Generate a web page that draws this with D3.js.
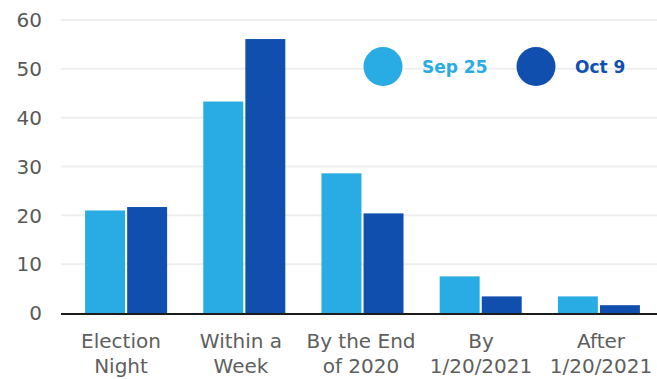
<!DOCTYPE html>
<html>
<head>
<meta charset="utf-8">
<script src="https://cdn.jsdelivr.net/npm/d3@7"></script>
<style>
  html, body { margin: 0; padding: 0; background: #fff; }
  svg { display: block; }
  text { font-family: "DejaVu Sans", sans-serif; }
</style>
</head>
<body>
<svg id="chart" width="657" height="379"></svg>
<script>
// Category labels (two lines each) and survey values
const categories = ["Election Night", "Within a Week", "By the End of 2020", "By 1/20/2021", "After 1/20/2021"];
const categoryLines = [["Election", "Night"], ["Within a", "Week"], ["By the End", "of 2020"], ["By", "1/20/2021"], ["After", "1/20/2021"]];
const seriesNames = ["Sep 25", "Oct 9"];
const sep25 = [21, 43.3, 28.6, 7.5, 3.4];
const oct9 = [21.7, 56.1, 20.4, 3.4, 1.6];
const yTicks = [0, 10, 20, 30, 40, 50, 60];
const colors = ["#29ACE3", "#114FAF"];

const svg = d3.select("#chart");
const plotLeft = 61, plotRight = 657, plotTop = 20, plotBottom = 313;

const y = d3.scaleLinear().domain([0, 60]).range([plotBottom, plotTop]);

// Bar groups
const x = d3.scaleBand().domain(categories).range([67, 658])
  .paddingInner(0.306).paddingOuter(0.153);
const xSub = d3.scaleBand().domain(seriesNames).range([0, x.bandwidth()]).paddingInner(0.05);

// Category label positions
const xLabel = d3.scaleBand().domain(categories).range([61, 661]);

// Gridlines
svg.append("g").selectAll("line")
  .data(yTicks.filter(t => t > 0))
  .join("line")
  .attr("x1", plotLeft).attr("x2", plotRight)
  .attr("y1", d => y(d)).attr("y2", d => y(d))
  .attr("stroke", "#efefef").attr("stroke-width", 2);

// Y tick labels
svg.append("g").selectAll("text")
  .data(yTicks)
  .join("text")
  .attr("x", 42).attr("y", d => y(d))
  .attr("dy", "0.36em")
  .attr("text-anchor", "end")
  .attr("font-size", 20)
  .attr("fill", "#595959")
  .text(d => d);

// Bars
const series = [sep25, oct9];
const groups = svg.append("g").selectAll("g")
  .data(categories)
  .join("g")
  .attr("transform", d => `translate(${x(d)},0)`);

groups.selectAll("rect")
  .data((d, i) => seriesNames.map((s, j) => ({ s, v: series[j][i], j })))
  .join("rect")
  .attr("x", d => xSub(d.s))
  .attr("width", xSub.bandwidth())
  .attr("y", d => y(d.v))
  .attr("height", d => y(0) - y(d.v))
  .attr("fill", d => colors[d.j]);

// Baseline
svg.append("line")
  .attr("x1", plotLeft).attr("x2", plotRight)
  .attr("y1", plotBottom + 1).attr("y2", plotBottom + 1)
  .attr("stroke", "#1c1c1c").attr("stroke-width", 2);

// Category labels
const labels = svg.append("g").selectAll("text")
  .data(categories)
  .join("text")
  .attr("text-anchor", "middle")
  .attr("font-size", 20)
  .attr("fill", "#5e5e5e");
labels.each(function (d, i) {
  const cx = xLabel(d) + xLabel.bandwidth() / 2;
  d3.select(this).selectAll("tspan")
    .data(categoryLines[i])
    .join("tspan")
    .attr("x", cx)
    .attr("y", (t, k) => 348 + k * 25)
    .text(t => t);
});

// Legend
const legend = svg.append("g");
const legendX = [383, 536];
seriesNames.forEach((name, j) => {
  legend.append("circle")
    .attr("cx", legendX[j]).attr("cy", 66.5).attr("r", 19.5)
    .attr("fill", colors[j]);
  legend.append("text")
    .attr("x", legendX[j] + 39).attr("y", 72.5)
    .attr("font-size", 17).attr("font-weight", "bold")
    .attr("fill", colors[j])
    .text(name);
});
</script>
</body>
</html>
